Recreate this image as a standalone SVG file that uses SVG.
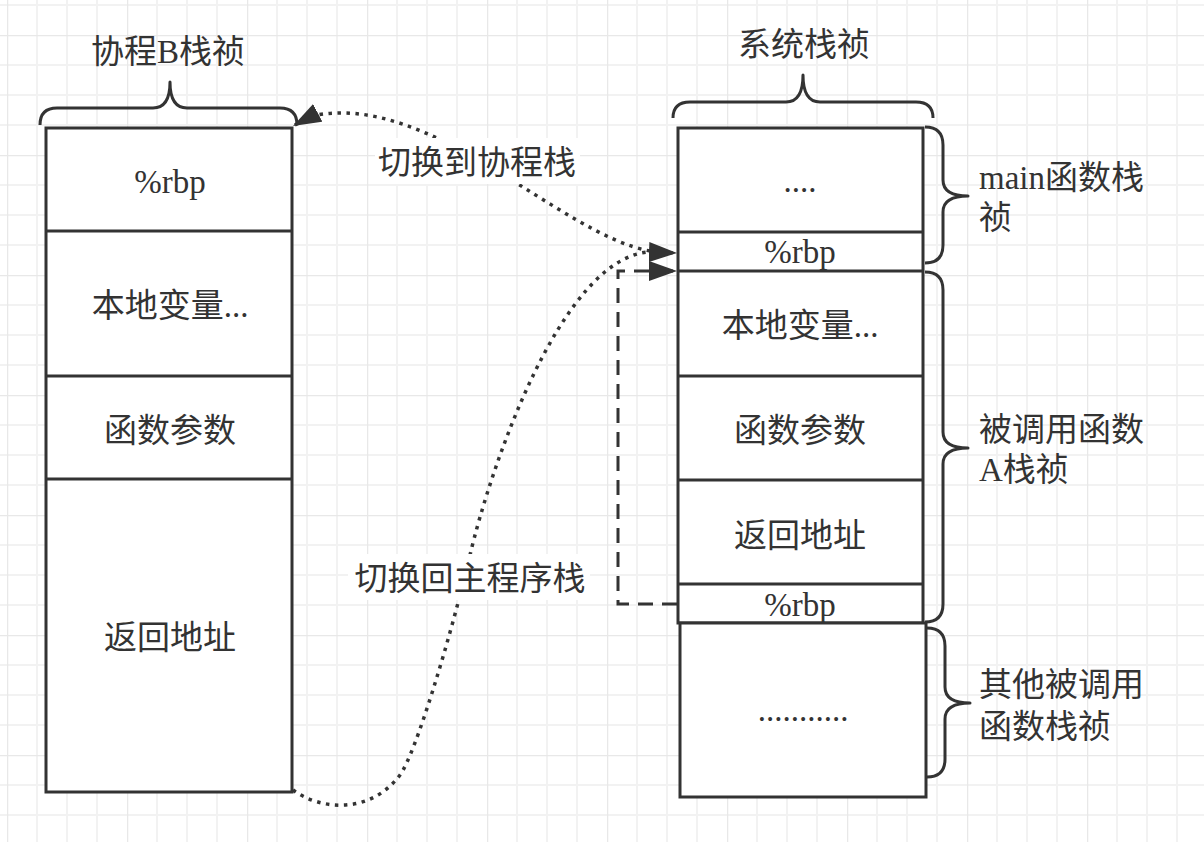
<svg xmlns="http://www.w3.org/2000/svg" width="1204" height="842" viewBox="0 0 1204 842">
<style>
.box{fill:#fff;stroke:#333;stroke-width:3}
.div{stroke:#333;stroke-width:3;fill:none}
.brace{fill:none;stroke:#333;stroke-width:3;stroke-linejoin:round}
.t{font-family:"Liberation Serif","Noto Sans CJK SC",serif;font-size:33px;fill:#333}
.c{text-anchor:middle}
.dot{fill:none;stroke:#333;stroke-width:3.5;stroke-dasharray:3.5 5.5}
.dash{fill:none;stroke:#333;stroke-width:3;stroke-dasharray:15 9}
.lblbg{fill:#fff}
</style>
<defs>
<pattern id="grid" x="7" y="35" width="120" height="120" patternUnits="userSpaceOnUse">
<path d="M30 0V120M60 0V120M90 0V120M0 30H120M0 60H120M0 90H120" stroke="#f2f2f2" stroke-width="2" fill="none"/>
<path d="M0 0V120M0 0H120" stroke="#e8e8e8" stroke-width="2.5" fill="none"/>
</pattern>
<marker id="arr" markerUnits="userSpaceOnUse" markerWidth="30" markerHeight="22" refX="28" refY="10" orient="auto" viewBox="0 0 30 22">
<path d="M0 0L28 10L0 20Z" fill="#333"/>
</marker>
</defs>
<rect width="1204" height="842" fill="#fff"/>
<rect width="1204" height="842" fill="url(#grid)"/>

<g id="coroutine-stack">
<rect class="box" x="46" y="128" width="246" height="664"/>
<path class="div" d="M46 231H292M46 376H292M46 479H292"/>
<text class="t c" x="170" y="193">%rbp</text>
<text class="t c" x="170" y="317">本地变量...</text>
<text class="t c" x="170" y="442">函数参数</text>
<text class="t c" x="170" y="649">返回地址</text>
</g>
<g id="coroutine-brace">
<path class="brace" d="M40 125Q40 108 57 108L153 108Q170 108 170 82Q170 108 187 108L280 108Q297 108 297 125"/>
<text class="t c" x="168" y="63">协程B栈祯</text>
</g>

<g id="system-stack">
<rect class="box" x="678" y="128" width="245" height="495"/>
<path class="div" d="M678 232H923M678 271H923M678 376H923M678 480H923M678 584H923"/>
<text class="t c" x="800" y="192">....</text>
<text class="t c" x="800" y="263">%rbp</text>
<text class="t c" x="800" y="337">本地变量...</text>
<text class="t c" x="800" y="442">函数参数</text>
<text class="t c" x="800" y="547">返回地址</text>
<text class="t c" x="800" y="616">%rbp</text>
</g>
<g id="other-frames">
<rect class="box" x="680" y="623" width="246" height="174"/>
<text class="t c" x="803" y="721">...........</text>
</g>
<g id="system-brace">
<path class="brace" d="M673 118Q673 102 690 102L786 102Q803 102 803 75Q803 102 820 102L916 102Q933 102 933 118"/>
<text class="t c" x="804" y="56">系统栈祯</text>
</g>
<g id="main-brace">
<path class="brace" d="M925 127Q943 127 943 145L943 180Q943 196 968 196Q943 196 943 212L943 245Q943 263 925 263"/>
<text class="t" x="979" y="189">main函数栈</text>
<text class="t" x="979" y="229">祯</text>
</g>
<g id="a-brace">
<path class="brace" d="M925 272Q943 272 943 290L943 432Q943 448 968 448Q943 448 943 464L943 604Q943 622 925 622"/>
<text class="t" x="979" y="441">被调用函数</text>
<text class="t" x="979" y="481">A栈祯</text>
</g>
<g id="other-brace">
<path class="brace" d="M927 628Q945 628 945 646L945 687Q945 703 970 703Q945 703 945 719L945 759Q945 777 927 777"/>
<text class="t" x="979" y="696">其他被调用</text>
<text class="t" x="979" y="738">函数栈祯</text>
</g>

<g id="connectors">
<path class="dot" d="M650 251C560 235 430 90 312 116L293 126" marker-end="url(#arr)"/>
<path class="dot" d="M293 790C320 810 370 815 400 775C415 755 450 640 470 555C490 470 560 260 648 252L677 253" marker-end="url(#arr)"/>
<path class="dash" d="M677 604H618V271H677" marker-end="url(#arr)"/>
<rect class="lblbg" x="375" y="138" width="205" height="46"/>
<text class="t c" x="477" y="174">切换到协程栈</text>
<rect class="lblbg" x="348" y="554" width="242" height="46"/>
<text class="t c" x="470" y="590">切换回主程序栈</text>
</g>
</svg>
